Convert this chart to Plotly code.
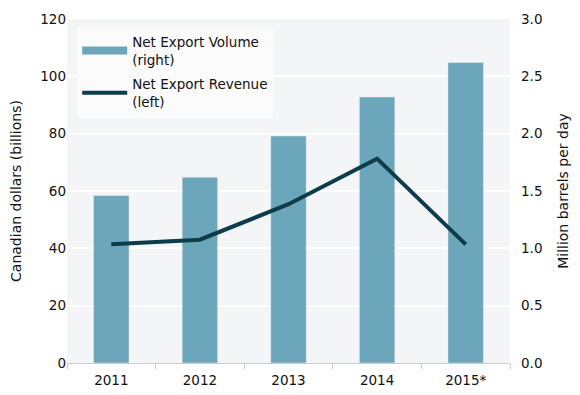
import plotly.graph_objects as go

years = ["2011", "2012", "2013", "2014", "2015*"]
volume = [1.46, 1.62, 1.98, 2.32, 2.62]      # million barrels per day (right)
revenue = [41.4, 43.0, 55.4, 71.3, 41.4]     # Canadian dollars, billions (left)

bar_color = "#6ca6ba"
line_color = "#0d3c4b"
font = "DejaVu Sans"

fig = go.Figure()
# bars on the primary axis (drawn at the back), shown on the right side
fig.add_trace(go.Bar(x=years, y=volume, yaxis="y", marker_color=bar_color,
                     width=0.4, showlegend=False))
# line on the overlaying axis so it sits above the bars, shown on the left
fig.add_trace(go.Scatter(x=years, y=revenue, yaxis="y2", mode="lines",
                         line=dict(color=line_color, width=4), showlegend=False))
# legend entries drawn as strokes like the original key
fig.add_trace(go.Scatter(x=[None], y=[None], mode="lines", name="Net Export Volume<br>(right)",
                         legendgroup="vol", line=dict(color=bar_color, width=8)))
fig.add_trace(go.Scatter(x=[None], y=[None], mode="lines", name="Net Export Revenue<br>(left)",
                         legendgroup="rev", line=dict(color=line_color, width=4)))

fig.update_layout(
    width=580, height=395,
    margin=dict(l=59, r=78, t=11, b=40),
    paper_bgcolor="white", plot_bgcolor="#f4f5f7",
    font=dict(family=font, size=13, color="#111"),
    xaxis=dict(type="category", tickson="boundaries", ticks="outside", ticklen=5,
               tickcolor="#ccc", showline=True, linecolor="#ccc", showgrid=False,
               ticklabelstandoff=5, tickfont=dict(size=13.5), automargin=False),
    yaxis=dict(range=[0, 3.0], dtick=0.5, tickformat=".1f", side="right",
               gridcolor="white", gridwidth=2, zeroline=False, ticks="",
               ticklabelstandoff=10, automargin=False,
               title=dict(text="Million barrels per day", standoff=16, font=dict(size=14)),
               tickfont=dict(size=13.5)),
    yaxis2=dict(range=[0, 120], dtick=20, overlaying="y", side="left",
                showgrid=False, zeroline=False, ticks="", automargin=False,
                title=dict(text="Canadian dollars (billions)", standoff=17, font=dict(size=14)),
                tickfont=dict(size=13.5)),
    legend=dict(x=0.023, y=0.978, xanchor="left", yanchor="top",
                bgcolor="#fbfbfc", font=dict(size=13.5), tracegroupgap=4,
                itemwidth=45),
)

fig.write_html("out.html")
